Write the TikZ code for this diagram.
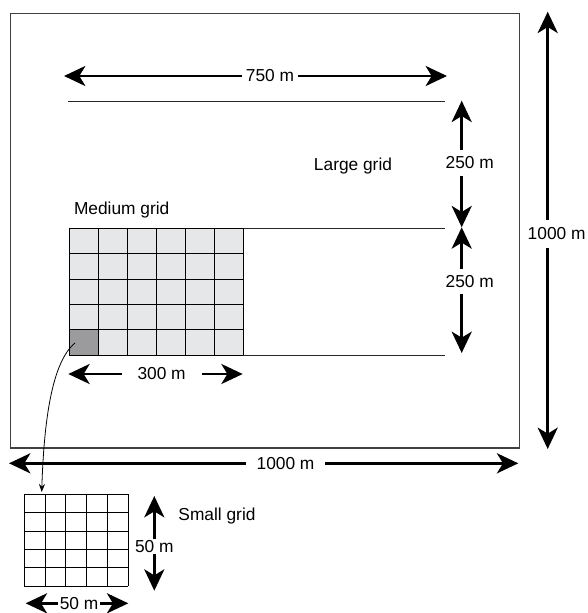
\documentclass[tikz,border=0pt]{standalone}
\usepackage{fontspec}
\setmainfont{Liberation Sans}
\usetikzlibrary{arrows.meta}
\definecolor{zellgrau}{RGB}{230,231,233}
\definecolor{dunkelgrau}{RGB}{155,155,157}

\begin{document}
\begin{tikzpicture}[x=0.75pt,y=-0.75pt,>={Stealth[length=16pt,width=15pt,inset=4.5pt]},
  mass/.style={<->,line width=2.2pt},
  masstext/.style={fill=white,inner sep=2pt,font=\fontsize{13}{15}\selectfont},
  txt/.style={font=\fontsize{13}{15}\selectfont}]
  \useasboundingbox (0,0) rectangle (587,613);
  % Rahmen
  \draw[line width=0.8pt,black!75] (10.7,13.3) rectangle (519.3,448);
  % Linien
  \draw[line width=0.7pt,black!85] (67.7,101) -- (445,101);
  \draw[line width=0.7pt,black!85] (243.3,228.3) -- (445,228.3);
  \draw[line width=0.7pt,black!85] (243.3,355) -- (445,355);
  % mittleres Gitter
  \fill[zellgrau] (69.3,228.3) rectangle (243.3,355);
  \fill[dunkelgrau] (69.3,329.7) rectangle (98.3,355);
  \draw[line width=0.7pt] \foreach\i in {0,...,6} { (69.3+29*\i,228.3)--(69.3+29*\i,355) };
  \draw[line width=0.7pt] \foreach\j in {0,...,5} { (69.3,228.3+25.34*\j)--(243.3,228.3+25.34*\j) };
  % kleines Gitter
  \draw[line width=0.7pt] \foreach\i in {0,...,5} { (24.3+20.8*\i,494.3)--(24.3+20.8*\i,586) };
  \draw[line width=0.7pt] \foreach\j in {0,...,5} { (24.3,494.3+18.34*\j)--(128.3,494.3+18.34*\j) };
  % Texte
  \node[txt] (gross) at (353,166) {Large grid};
  \node[txt] (mittel) at (121.7,210.5) {Medium grid};
  \node[txt] (klein) at (217,516) {Small grid};
  % Masspfeile
  \coordinate (w750) at (64,76);
  \coordinate (o750) at (447,76);
  \coordinate (o1) at (461.7,100.7);
  \coordinate (m1) at (461.7,227.3);
  \coordinate (u1) at (461.7,353);
  \coordinate (vo) at (547.7,11.7);
  \coordinate (vu) at (547.7,449);
  \coordinate (hw) at (9,463.3);
  \coordinate (ho) at (518.3,463.3);
  \coordinate (w300) at (68.3,374);
  \coordinate (o300) at (242.7,374);
  \coordinate (ko) at (154.3,496);
  \coordinate (ku) at (154.3,590.7);
  \coordinate (kw) at (25.7,603.3);
  \coordinate (kr) at (128.3,603.3);
  \draw[mass] (w750) -- node[masstext,pos=.538,inner xsep=3pt] (t750) {750 m} (o750);
  \draw[mass] (o1) -- node[masstext,pos=.49,xshift=6pt,inner ysep=5pt] (t250a) {250 m} (m1);
  \draw[mass] (m1) -- node[masstext,pos=.43,xshift=6pt,inner ysep=5pt] (t250b) {250 m} (u1);
  \draw[mass] (vo) -- node[masstext,pos=.508,xshift=6.7pt,inner ysep=6pt] (t1000v) {1000 m} (vu);
  \draw[mass] (hw) -- node[masstext,pos=.543,inner xsep=8pt] (t1000h) {1000 m} (ho);
  \draw[mass] (w300) -- node[masstext,pos=.535,inner xsep=12pt] (t300) {300 m} (o300);
  \draw[mass] (ko) -- node[masstext,pos=.53,inner ysep=1pt] (t50v) {50 m} (ku);
  \draw[mass] (kw) -- node[masstext,pos=.52,inner xsep=1pt] (t50h) {50 m} (kr);
  % Zelle zum kleinen Gitter
  \coordinate (start) at (75,343);
  \coordinate (ziel) at (41.7,492);
  \draw[->,>={Stealth[length=6pt,width=4.5pt]},line width=0.6pt] (start) .. controls (52,362) and (44,420) .. (ziel);
\end{tikzpicture}
\end{document}
